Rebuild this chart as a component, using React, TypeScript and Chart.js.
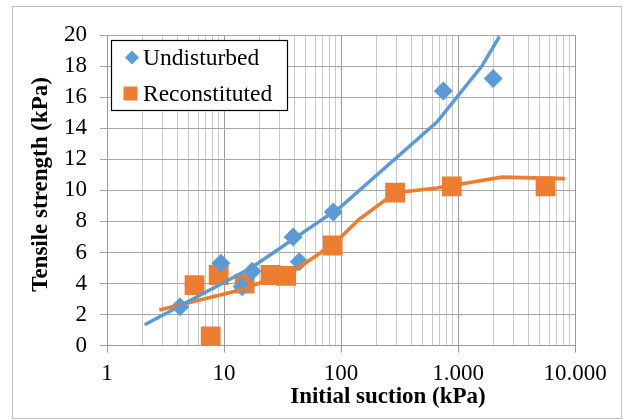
import React, { useEffect, useRef } from "react";
import { Chart, registerables } from "chart.js";

Chart.register(...registerables);

// ---- data ----
const undisturbedX = [4.2, 9.4, 14.3, 17.4, 39, 44, 86, 750, 2000];
const undisturbedY = [2.5, 5.3, 3.8, 4.8, 7.0, 5.4, 8.6, 16.4, 17.2];

const reconstitutedX = [5.6, 7.7, 9.0, 15, 25, 34, 85, 290, 885, 5600];
const reconstitutedY = [3.9, 0.6, 4.55, 4.0, 4.55, 4.5, 6.45, 9.85, 10.25, 10.25];

const trendUndisturbedX = [2.1, 17, 100, 660, 1600, 2260];
const trendUndisturbedY = [1.35, 5.0, 8.95, 14.4, 18.0, 19.9];

const trendReconstitutedX = [2.8, 14, 40, 66, 100, 141, 290, 660, 2370, 8200];
const trendReconstitutedY = [2.3, 3.6, 4.85, 5.95, 7.0, 8.1, 9.85, 10.15, 10.85, 10.75];

const xTickValues = [
  1, 2, 3, 4, 5, 6, 7, 8, 9,
  10, 20, 30, 40, 50, 60, 70, 80, 90,
  100, 200, 300, 400, 500, 600, 700, 800, 900,
  1000, 2000, 3000, 4000, 5000, 6000, 7000, 8000, 9000,
  10000,
];
const xTickLabels: Record<number, string> = {
  1: "1",
  10: "10",
  100: "100",
  1000: "1.000",
  10000: "10.000",
};
const yMin = 0;
const yMax = 20;
const yStep = 2;

const seriesNames = ["Undisturbed", "Reconstituted"];
const xTitle = "Initial suction (kPa)";
const yTitle = "Tensile strength (kPa)";

const BLUE = "#5B9BD5";
const ORANGE = "#ED7D31";
const MAJOR = "#9a9a9a";
const MINOR = "#c9c9c9";
const FONT = "'Liberation Serif', 'Times New Roman', serif";

const isDecade = (v: number) => {
  const l = Math.log10(v);
  return Math.abs(l - Math.round(l)) < 1e-9;
};

const toPoints = (xs: number[], ys: number[]) => xs.map((x, i) => ({ x, y: ys[i] }));

const decorPlugin = {
  id: "decor",
  beforeDraw(chart: any) {
    const ctx = chart.ctx;
    ctx.save();
    ctx.fillStyle = "#ffffff";
    ctx.fillRect(0, 0, chart.width, chart.height);
    ctx.strokeStyle = "#bfbfbf";
    ctx.lineWidth = 1;
    ctx.strokeRect(12.5, 6.5, 609, 412);
    ctx.restore();
  },
  afterDraw(chart: any) {
    const ctx = chart.ctx;
    ctx.save();
    // axis titles
    ctx.fillStyle = "#000";
    ctx.font = `bold 23px ${FONT}`;
    ctx.textAlign = "center";
    ctx.textBaseline = "alphabetic";
    ctx.fillText(xTitle, 388, 403);
    ctx.save();
    ctx.translate(47, 184.5);
    ctx.rotate(-Math.PI / 2);
    ctx.fillText(yTitle, 0, 0);
    ctx.restore();

    // legend
    ctx.fillStyle = "#ffffff";
    ctx.fillRect(111.5, 40.5, 176, 70);
    ctx.strokeStyle = "#000";
    ctx.lineWidth = 1.2;
    ctx.strokeRect(111.5, 40.5, 176, 70);

    // diamond
    ctx.fillStyle = BLUE;
    ctx.beginPath();
    ctx.moveTo(132 - 7, 57.5);
    ctx.lineTo(132, 57.5 - 7);
    ctx.lineTo(132 + 7, 57.5);
    ctx.lineTo(132, 57.5 + 7);
    ctx.closePath();
    ctx.fill();
    // square
    ctx.fillStyle = ORANGE;
    ctx.fillRect(123.5, 86.5, 14, 14);

    ctx.fillStyle = "#000";
    ctx.font = `23.5px ${FONT}`;
    ctx.textAlign = "left";
    ctx.fillText(seriesNames[0], 143, 65);
    ctx.fillText(seriesNames[1], 143, 100.7);
    ctx.restore();
  },
};

export default function App() {
  const ref = useRef<HTMLCanvasElement | null>(null);

  useEffect(() => {
    if (!ref.current) return;
    const chart = new Chart(ref.current, {
      type: "scatter",
      data: {
        datasets: [
          {
            label: "Trend " + seriesNames[0],
            data: toPoints(trendUndisturbedX, trendUndisturbedY),
            showLine: true,
            borderColor: BLUE,
            backgroundColor: BLUE,
            borderWidth: 3.5,
            pointRadius: 0,
            tension: 0,
            order: 1,
          } as any,
          {
            label: "Trend " + seriesNames[1],
            data: toPoints(trendReconstitutedX, trendReconstitutedY),
            showLine: true,
            borderColor: ORANGE,
            backgroundColor: ORANGE,
            borderWidth: 3.7,
            pointRadius: 0,
            tension: 0,
            order: 1,
          } as any,
          {
            label: seriesNames[0],
            data: toPoints(undisturbedX, undisturbedY),
            pointStyle: "rectRot",
            pointRadius: 9.5,
            backgroundColor: BLUE,
            borderColor: BLUE,
            borderWidth: 0,
            order: 2,
          } as any,
          {
            label: seriesNames[1],
            data: toPoints(reconstitutedX, reconstitutedY),
            pointStyle: "rect",
            pointRadius: 14,
            backgroundColor: ORANGE,
            borderColor: ORANGE,
            borderWidth: 0,
            order: 2,
          } as any,
        ],
      },
      options: {
        animation: false,
        responsive: false,
        events: [],
        layout: { padding: { left: 0, right: 49, top: 35, bottom: 0 } },
        plugins: {
          legend: { display: false },
          tooltip: { enabled: false },
          title: { display: false },
        },
        scales: {
          x: {
            type: "logarithmic",
            min: 1,
            max: 10000,
            afterBuildTicks: (s: any) => {
              s.ticks = xTickValues.map((v) => ({ value: v, major: isDecade(v) }));
            },
            afterFit: (s: any) => {
              s.height = 74.3;
            },
            grid: {
              color: (c: any) => (c.tick && isDecade(c.tick.value) ? MAJOR : MINOR),
              tickColor: (c: any) => (c.tick && isDecade(c.tick.value) ? MAJOR : "rgba(0,0,0,0)"),
              tickLength: 7,
              lineWidth: 1,
            },
            border: { color: MAJOR },
            ticks: {
              autoSkip: false,
              maxRotation: 0,
              minRotation: 0,
              padding: 7,
              color: "#000",
              font: { family: FONT, size: 23 },
              callback: (v: any) => xTickLabels[Number(v)] ?? "",
            },
          },
          y: {
            type: "linear",
            min: yMin,
            max: yMax,
            afterFit: (s: any) => {
              s.width = 107;
            },
            grid: { color: "#a6a6a6", tickColor: "#a6a6a6", tickLength: 7, lineWidth: 1 },
            border: { color: MAJOR },
            ticks: {
              stepSize: yStep,
              padding: 13,
              color: "#000",
              font: { family: FONT, size: 23 },
            },
          },
        },
      } as any,
      plugins: [decorPlugin],
    });
    return () => chart.destroy();
  }, []);

  return (
    <div style={{ position: "absolute", left: 0, top: 0, width: 624, height: 420 }}>
      <canvas ref={ref} width={624} height={420} />
    </div>
  );
}
